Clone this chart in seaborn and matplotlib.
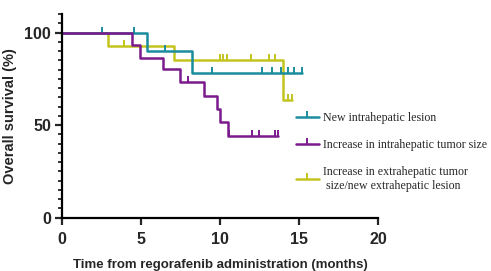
import numpy as np
import pandas as pd
import matplotlib
matplotlib.use("Agg")
import matplotlib.pyplot as plt
import seaborn as sns
from matplotlib.lines import Line2D
from matplotlib.ticker import MultipleLocator

sns.set_style("ticks")

# ---- data ----
groups = ["New intrahepatic lesion",
          "Increase in intrahepatic tumor size",
          "Increase in extrahepatic tumor\n size/new extrahepatic lesion"]
colors = ["#1a8c9e", "#7b1a8c", "#c4c41e"]

teal_times = [0, 5.36, 8.25]
teal_surv = [100, 90.0, 78.4]
teal_end = 15.2
teal_cens = [2.55, 4.54, 6.54, 9.52, 12.66, 13.28, 13.86, 14.28, 14.7, 15.2]

purple_times = [0, 4.44, 4.92, 6.39, 7.44, 8.96, 9.80, 9.97, 10.49]
purple_surv = [100, 93.1, 86.5, 80.1, 73.2, 65.9, 58.5, 51.6, 44.0]
purple_end = 13.68
purple_cens = [7.97, 10.6, 12.0, 12.48, 13.47, 13.68]

yellow_times = [0, 2.92, 7.07, 13.97]
yellow_surv = [100, 92.6, 85.3, 63.7]
yellow_end = 14.56
yellow_cens = [3.93, 9.97, 10.2, 10.45, 11.95, 13.1, 13.5, 14.3, 14.56]

series = [
    (teal_times, teal_surv, teal_end, teal_cens),
    (purple_times, purple_surv, purple_end, purple_cens),
    (yellow_times, yellow_surv, yellow_end, yellow_cens),
]

rows = []
for g, (t, s, e, c) in zip(groups, series):
    for ti, si in zip(t, s):
        rows.append((g, ti, si))
    rows.append((g, e, s[-1]))
df = pd.DataFrame(rows, columns=["group", "time", "surv"])

fig = plt.figure(figsize=(4.91, 2.71), dpi=100)
ax = fig.add_axes([0.1263, 0.1967, 0.6436, 0.7515])

plot_order = [2, 0, 1]
for i in plot_order:
    g = groups[i]
    sub = df[df.group == g]
    sns.lineplot(data=sub, x="time", y="surv", ax=ax, color=colors[i],
                 drawstyle="steps-post", estimator=None, lw=1.8, legend=False)
    t, s, e, c = series[i]
    ct = np.array(c)
    idx = np.searchsorted(np.array(t), ct, side="right") - 1
    cy = np.array(s)[idx]
    ax.plot(ct, cy, linestyle="none", marker=2, markersize=4.5,
            markeredgewidth=1.4, color=colors[i])

ax.set_xlim(0, 20)
ax.set_ylim(0, 110)
ax.set_xticks([0, 5, 10, 15, 20])
ax.set_yticks([0, 50, 100])
ax.yaxis.set_minor_locator(MultipleLocator(5))
ax.margins(0)
for sp in ["top", "right"]:
    ax.spines[sp].set_visible(False)
for sp in ["left", "bottom"]:
    ax.spines[sp].set_linewidth(1.6)
    ax.spines[sp].set_color("black")
ax.tick_params(axis="both", which="major", length=5, width=1.6, direction="out",
               labelsize=11.5, pad=3)
ax.tick_params(axis="x", which="major", pad=5)
ax.tick_params(axis="y", which="minor", length=3, width=1.3)
for lab in ax.get_xticklabels() + ax.get_yticklabels():
    lab.set_fontweight("bold")
    lab.set_family("Liberation Sans")

ax.set_xlabel("Time from regorafenib administration (months)", fontsize=9.5,
              fontweight="bold", family="Liberation Sans", labelpad=9)
ax.set_ylabel("Overall survival (%)", fontsize=10.5, fontweight="bold",
              family="Liberation Sans", labelpad=5)

handles = [Line2D([0], [0], color=colors[i], lw=1.8, marker=2, markersize=4.5,
                  markeredgewidth=1.4) for i in range(3)]
fig.legend(handles, groups, loc="upper left", bbox_to_anchor=(0.58, 0.625),
           frameon=False, prop={"family": "Liberation Serif", "size": 8.6},
           handlelength=1.95, handletextpad=0.35, labelspacing=1.25,
           borderpad=0.4)

fig.savefig("out.png", dpi=100)
